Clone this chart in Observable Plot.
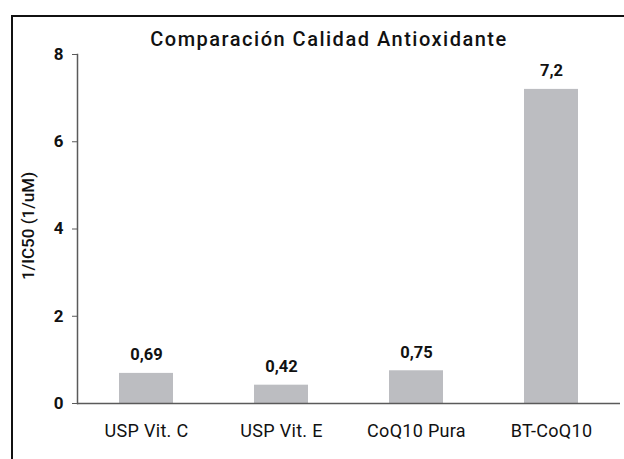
<!DOCTYPE html>
<html>
<head>
<meta charset="utf-8">
<script src="https://cdn.jsdelivr.net/npm/d3@7"></script>
<script src="https://cdn.jsdelivr.net/npm/@observablehq/plot@0.6"></script>
<style>
  html, body { margin: 0; padding: 0; background: #fff; overflow: hidden; }
  #wrap { position: relative; width: 624px; height: 459px; overflow: hidden; font-family: Roboto, "Noto Sans", sans-serif; }
  #border { position: absolute; left: 11px; top: 15px; right: -10px; bottom: -10px; border-top: 2px solid #111; border-left: 2px solid #111; pointer-events: none; }
  #chart { position: absolute; left: 0; top: 0; }
</style>
</head>
<body>
<div id="wrap"><div id="chart"></div><div id="border"></div></div>
<script>
const title = "Comparación Calidad Antioxidante";
const yLabel = "1/IC50 (1/uM)";
const categories = ["USP Vit. C", "USP Vit. E", "CoQ10 Pura", "BT-CoQ10"];
const values = [0.69, 0.42, 0.75, 7.2];
const valueLabels = ["0,69", "0,42", "0,75", "7,2"];
const yTicks = [0, 2, 4, 6, 8];

const data = categories.map((c, i) => ({cat: c, val: values[i], label: valueLabels[i]}));

const chart = Plot.plot({
  width: 624,
  height: 459,
  marginTop: 54,
  marginBottom: 56,
  marginLeft: 77,
  marginRight: 4,
  style: {fontFamily: "Roboto, 'Noto Sans', sans-serif", background: "transparent", overflow: "visible"},
  x: {domain: categories, paddingInner: 0.6, paddingOuter: 0.3, label: null},
  y: {domain: [0, 8], label: null},
  marks: [
    Plot.barY(data, {x: "cat", y: "val", fill: "#bcbdc1"}),
    Plot.ruleY([0], {stroke: "#5a5a5a", strokeWidth: 1.5}),
    Plot.frame({anchor: "left", stroke: "#5a5a5a", strokeWidth: 1.5}),
    Plot.axisY({ticks: yTicks, tickSize: 5, tickPadding: 9, stroke: "#5a5a5a", fontSize: 17, fontWeight: "bold", fill: "#111", label: null, tickFormat: d => String(d)}),
    Plot.axisX({tickSize: 0, tickPadding: 21, fontSize: 18, fill: "#111", label: null}),
    Plot.text(data, {x: "cat", y: "val", text: "label", dy: -13, lineAnchor: "bottom", fontSize: 16.5, fontWeight: "bold", fill: "#111"}),
    Plot.text([title], {frameAnchor: "top", dx: -20, dy: -9, lineAnchor: "bottom", fontSize: 20, fontWeight: 500, fill: "#111"}),
    Plot.text([yLabel], {frameAnchor: "left", textAnchor: "middle", rotate: -90, dx: -49, dy: -3, fontSize: 17, fontWeight: 500, fill: "#111"})
  ]
});
document.getElementById("chart").appendChild(chart);
d3.select(chart).selectAll('g[aria-label="x-axis tick label"] text').style("letter-spacing", "0.3px");
d3.select(chart).selectAll('g[aria-label="text"]').filter((d, i, n) => i === 1).selectAll("text").style("letter-spacing", "1.5px");
</script>
</body>
</html>
